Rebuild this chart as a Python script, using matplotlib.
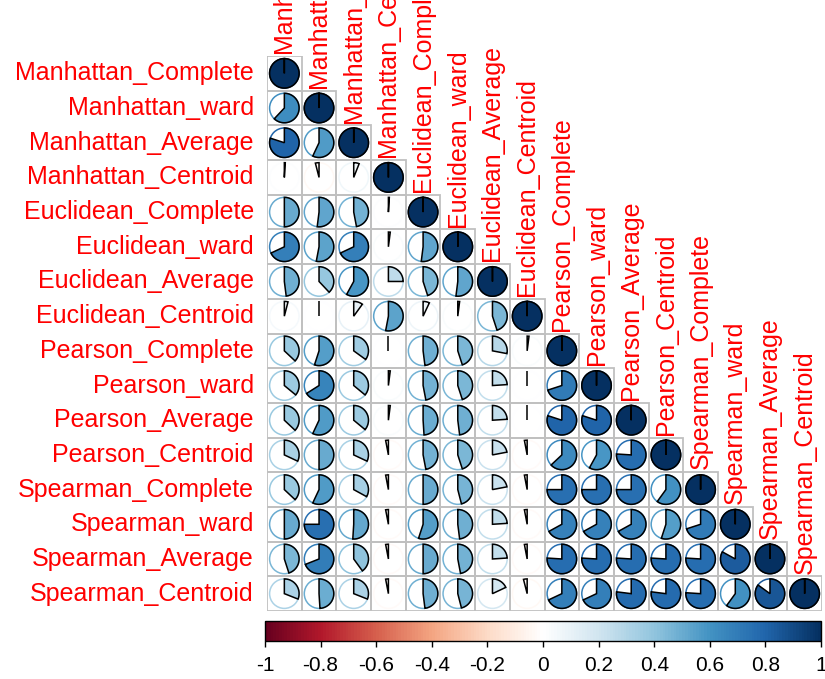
import numpy as np
import matplotlib
matplotlib.use('Agg')
import matplotlib.pyplot as plt
from matplotlib.colors import LinearSegmentedColormap, Normalize
from matplotlib.patches import Rectangle, Circle
from matplotlib.cm import ScalarMappable

names = ['Manhattan_Complete', 'Manhattan_ward', 'Manhattan_Average', 'Manhattan_Centroid',
         'Euclidean_Complete', 'Euclidean_ward', 'Euclidean_Average', 'Euclidean_Centroid',
         'Pearson_Complete', 'Pearson_ward', 'Pearson_Average', 'Pearson_Centroid',
         'Spearman_Complete', 'Spearman_ward', 'Spearman_Average', 'Spearman_Centroid']

# lower triangle, row by row (diagonal = 1 added later)
corr_rows = [
    [],
    [0.62],
    [0.80, 0.57],
    [0.01, -0.04, 0.06],
    [0.50, 0.52, 0.47, 0.01],
    [0.68, 0.53, 0.68, 0.02, 0.52],
    [0.48, 0.38, 0.58, 0.25, 0.45, 0.52],
    [0.04, 0.00, 0.10, 0.53, 0.07, 0.02, 0.45],
    [0.37, 0.55, 0.35, 0.00, 0.48, 0.45, 0.28, 0.02],
    [0.36, 0.66, 0.36, 0.02, 0.47, 0.45, 0.24, 0.00, 0.70],
    [0.37, 0.57, 0.36, 0.02, 0.49, 0.48, 0.24, 0.00, 0.80, 0.80],
    [0.32, 0.50, 0.32, -0.03, 0.47, 0.45, 0.22, -0.03, 0.63, 0.58, 0.76],
    [0.37, 0.57, 0.33, -0.03, 0.50, 0.46, 0.22, -0.03, 0.75, 0.75, 0.75, 0.60],
    [0.50, 0.75, 0.51, -0.03, 0.55, 0.48, 0.24, -0.03, 0.67, 0.67, 0.67, 0.55, 0.70],
    [0.45, 0.69, 0.40, -0.03, 0.50, 0.47, 0.24, -0.03, 0.76, 0.76, 0.76, 0.76, 0.76, 0.83],
    [0.31, 0.49, 0.31, -0.03, 0.48, 0.46, 0.18, -0.04, 0.68, 0.68, 0.77, 0.77, 0.76, 0.60, 0.85],
]

cbar_ticks = [-1, -0.8, -0.6, -0.4, -0.2, 0, 0.2, 0.4, 0.6, 0.8, 1]
cbar_labels = ['-1', '-0.8', '-0.6', '-0.4', '-0.2', '0', '0.2', '0.4', '0.6', '0.8', '1']

# corrplot COL2('RdBu')
col2 = ["#67001F", "#B2182B", "#D6604D", "#F4A582", "#FDDBC7", "#FFFFFF",
        "#D1E5F0", "#92C5DE", "#4393C3", "#2166AC", "#053061"]
cmap = LinearSegmentedColormap.from_list('corr', col2, N=200)
norm = Normalize(-1, 1)

n = len(names)
M = np.eye(n)
for i, row in enumerate(corr_rows):
    for j, v in enumerate(row):
        M[i, j] = v

W, H = 825, 679
fig = plt.figure(figsize=(W / 100, H / 100), dpi=100)
ax = fig.add_axes([267 / W, 1 - 611 / H, 555 / W, 555 / H])
ax.set_xlim(0.5, n + 0.5)
ax.set_ylim(n + 0.5, 0.5)
ax.axis('off')

R = 0.425
for i in range(n):
    for j in range(i + 1):
        r = M[i, j]
        c = cmap(norm(r))
        cx, cy = j + 1, i + 1
        ax.add_patch(Rectangle((j + 0.5, i + 0.5), 1, 1, fill=False,
                               edgecolor='#C0C0C0', lw=1.3, zorder=1))
        ax.add_patch(Circle((cx, cy), R, fill=False, edgecolor=c, lw=1.1, zorder=2))
        theta = 2 * np.pi * r
        k = np.linspace(np.pi / 2, np.pi / 2 - theta, max(2, int(60 * abs(theta) / np.pi)))
        xs = np.concatenate([[cx], cx + R * np.cos(k), [cx]])
        ys = np.concatenate([[cy], cy - R * np.sin(k), [cy]])
        ax.fill(xs, ys, facecolor=c, edgecolor='black', lw=1.1, zorder=3)

for i, name in enumerate(names):
    ax.text(0.5 - 0.38, i + 1, name, ha='right', va='center', color='red',
            fontsize=18, family='Liberation Sans')
    ax.text(i + 1, i + 0.5 - 0.08, name, ha='center', va='bottom', rotation=90,
            color='red', fontsize=18, family='Liberation Sans')

cax = fig.add_axes([265 / W, 1 - 641 / H, 556 / W, 20 / H])
cb = fig.colorbar(ScalarMappable(norm=norm, cmap=cmap), cax=cax,
                  orientation='horizontal', ticks=cbar_ticks)
cb.ax.set_xticklabels(cbar_labels, fontsize=15, family='Liberation Sans')
cb.ax.tick_params(direction='out', length=4, width=1, pad=7)
cb.outline.set_linewidth(1)
cb.outline.set_edgecolor('black')

plt.savefig('out.png', dpi=100)
